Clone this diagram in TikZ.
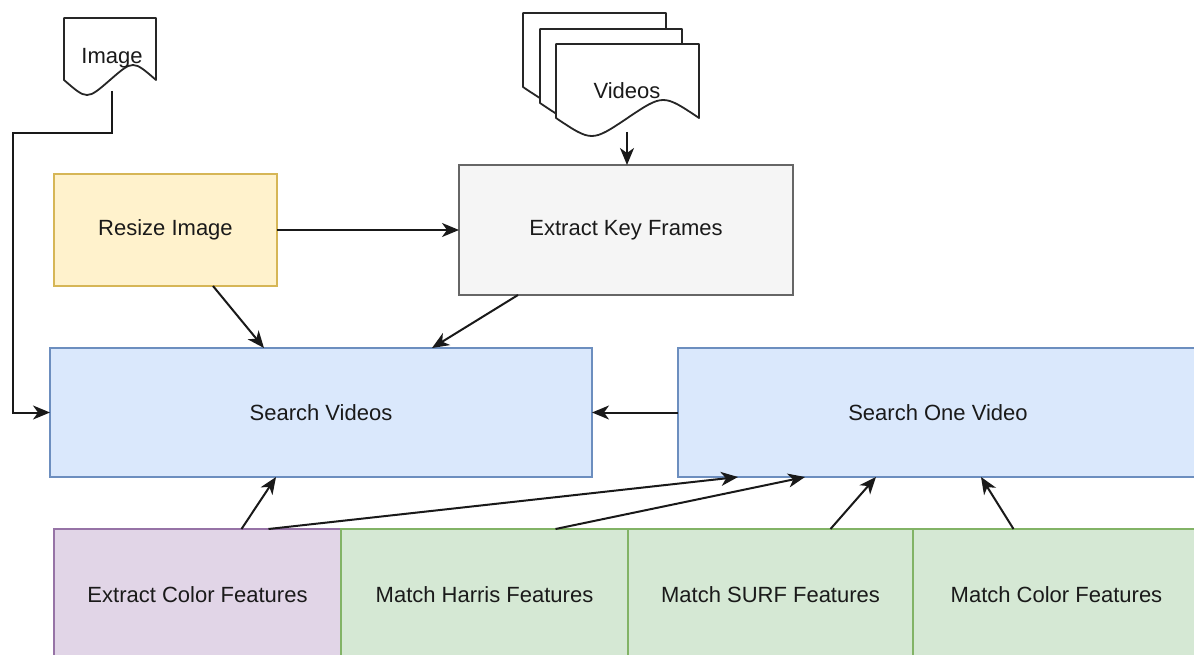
\documentclass[tikz,border=0pt]{standalone}
\usepackage{fontspec}
\setmainfont{Liberation Sans}
\usetikzlibrary{arrows.meta,calc}

\definecolor{txt}{HTML}{1A1A1A}
\definecolor{yelF}{HTML}{FFF2CC}\definecolor{yelD}{HTML}{D6B656}
\definecolor{gryF}{HTML}{F5F5F5}\definecolor{gryD}{HTML}{666666}
\definecolor{bluF}{HTML}{DAE8FC}\definecolor{bluD}{HTML}{6C8EBF}
\definecolor{purF}{HTML}{E1D5E7}\definecolor{purD}{HTML}{9673A6}
\definecolor{grnF}{HTML}{D5E8D4}\definecolor{grnD}{HTML}{82B366}

\tikzset{
  procbox/.style={rectangle, draw, line width=1.5pt, inner sep=0pt, outer sep=0pt,
    font=\fontsize{22}{26}\selectfont, text=txt},
  yellowbox/.style={procbox, fill=yelF, draw=yelD},
  greybox/.style={procbox, fill=gryF, draw=gryD},
  bluebox/.style={procbox, fill=bluF, draw=bluD},
  purplebox/.style={procbox, fill=purF, draw=purD},
  greenbox/.style={procbox, fill=grnF, draw=grnD},
  docshape/.style={draw=black!85, line width=1.8pt, fill=white, line join=round},
  conn/.style={draw=black!90, line width=2pt,
    -{Stealth[length=17pt,width=14pt,inset=5pt]}},
  doclabel/.style={font=\fontsize{22}{26}\selectfont, text=txt, inner sep=0pt}
}

\begin{document}
\begin{tikzpicture}[x=1pt,y=-1pt]
  \useasboundingbox (0,0) rectangle (1194,655);
  \clip (0,0) rectangle (1194,655);

  % --- input document: Image ---
  \path[docshape] (64,18) -- (156,18) -- (156,80)
    .. controls (133,60) .. (110,80)
    .. controls (87,100) .. (64,80) -- cycle;
  \node[doclabel] (image) at (112,58) {Image};
  \coordinate (imgout) at (112,91);

  % --- input document stack: Videos ---
  \path[docshape] (523,13) -- (666,13) -- (666,87)
    .. controls (630.25,63) .. (594.5,87)
    .. controls (558.75,111) .. (523,87) -- cycle;
  \path[docshape] (540,29) -- (682,29) -- (682,103)
    .. controls (646.5,79) .. (611,103)
    .. controls (575.5,127) .. (540,103) -- cycle;
  \path[docshape] (556,44) -- (699,44) -- (699,118)
    .. controls (663.25,94) .. (627.5,118)
    .. controls (591.75,142) .. (556,118) -- cycle;
  \node[doclabel] (videos) at (627,91) {Videos};
  \coordinate (vidout) at (627,132);

  % --- process boxes ---
  \node[yellowbox, minimum width=223pt, minimum height=112pt] (resize) at (165.5,230) {Resize Image};
  \node[greybox, minimum width=334pt, minimum height=130pt] (ekf) at (626,230) {Extract Key Frames};
  \node[bluebox, minimum width=542pt, minimum height=129pt] (sv) at (321,412.5) {Search Videos};
  \node[bluebox, minimum width=520pt, minimum height=129pt] (sov) at (938,412.5) {Search One Video};

  % --- feature modules along the bottom ---
  \node[purplebox, minimum width=287pt, minimum height=132pt] (ecf) at (197.5,595) {Extract Color Features};
  \node[greenbox, minimum width=287pt, minimum height=132pt] (mhf) at (484.5,595) {Match Harris Features};
  \node[greenbox, minimum width=285pt, minimum height=132pt] (msf) at (770.5,595) {Match SURF Features};
  \node[greenbox, minimum width=287pt, minimum height=132pt] (mcf) at (1056.5,595) {Match Color Features};

  % --- connectors ---
  \draw[conn] (imgout) -- (112,133) -- (13,133) |- (sv.west);
  \draw[conn] (vidout) -- (vidout |- ekf.north);
  \draw[conn] (resize.east) -- (resize.east -| ekf.west);
  \draw[conn] ([xshift=47.5pt]resize.south) -- ([xshift=-57pt]sv.north);
  \draw[conn] ([xshift=-108pt]ekf.south) -- ([xshift=111pt]sv.north);
  \draw[conn] (sov.west) -- (sv.east);

  \draw[conn] ([xshift=44pt]ecf.north) -- ([xshift=-45pt]sv.south);
  \draw[conn] ([xshift=71pt]ecf.north) -- ([xshift=-200pt]sov.south);
  \draw[conn] ([xshift=71pt]mhf.north) -- ([xshift=-133pt]sov.south);
  \draw[conn] ([xshift=60pt]msf.north) -- ([xshift=-62pt]sov.south);
  \draw[conn] ([xshift=-43pt]mcf.north) -- ([xshift=43pt]sov.south);
\end{tikzpicture}
\end{document}
